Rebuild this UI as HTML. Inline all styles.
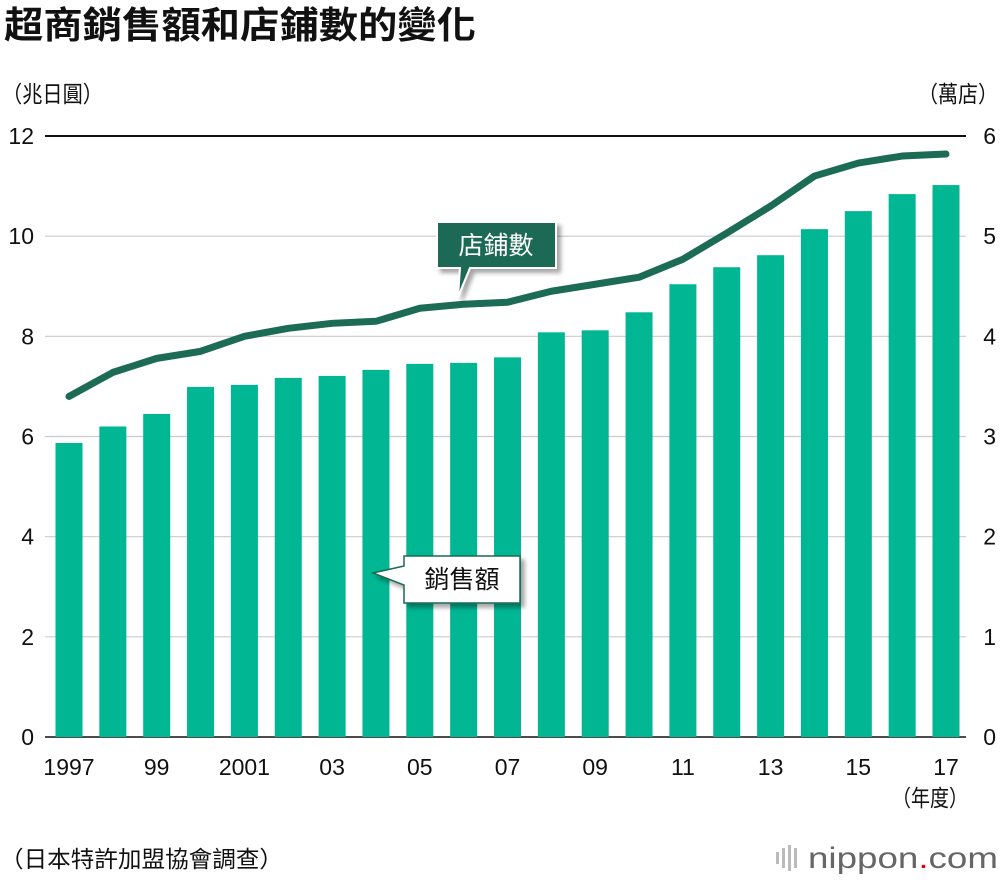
<!DOCTYPE html>
<html><head><meta charset="utf-8"><style>
body{margin:0;background:#fff;width:1000px;height:880px;overflow:hidden;font-family:"Liberation Sans","Noto Sans CJK TC",sans-serif}
</style></head><body>
<svg id="c" width="1000" height="880" style="position:absolute;left:0;top:0">
<defs><filter id="sh" x="-20%" y="-20%" width="150%" height="150%"><feDropShadow dx="4" dy="4" stdDeviation="2" flood-color="#000" flood-opacity="0.35"/></filter></defs>
<text x="4" y="38" font-size="37" font-weight="bold" fill="#111" textLength="472" lengthAdjust="spacingAndGlyphs" font-family="Liberation Sans,Noto Sans CJK TC,sans-serif">超商銷售額和店鋪數的變化</text>
<text x="2" y="102" font-size="23" fill="#111" textLength="101" lengthAdjust="spacingAndGlyphs" font-family="Liberation Sans,Noto Sans CJK TC,sans-serif">（兆日圓）</text>
<text x="918" y="102" font-size="23" fill="#111" textLength="80" lengthAdjust="spacingAndGlyphs" font-family="Liberation Sans,Noto Sans CJK TC,sans-serif">（萬店）</text>
<g id="grid"></g><g id="bars"></g><g id="line"></g><g id="ticks"></g>
<g>
<path d="M437,222 H556 V268 H470 L458,297 L460,268 H437 Z" fill="#1b6b55" stroke="#fff" stroke-width="2" filter="url(#sh)"/>
<text x="496" y="254" font-size="25" fill="#fff" text-anchor="middle" font-family="Liberation Sans,Noto Sans CJK TC,sans-serif">店鋪數</text></g>
<g>
<path d="M404,556 H520 V603 H404 V585 L373,573 L404,566 Z" fill="#fff" stroke="#1b6b55" stroke-width="1.5" filter="url(#sh)"/>
<text x="462" y="588" font-size="25" fill="#111" text-anchor="middle" font-family="Liberation Sans,Noto Sans CJK TC,sans-serif">銷售額</text></g>
<text x="892" y="806" font-size="23" fill="#111" textLength="76" lengthAdjust="spacingAndGlyphs" font-family="Liberation Sans,Noto Sans CJK TC,sans-serif">（年度）</text>
<text x="0" y="867" font-size="23" fill="#111" textLength="283" lengthAdjust="spacingAndGlyphs" font-family="Liberation Sans,Noto Sans CJK TC,sans-serif">（日本特許加盟協會調查）</text>
<g>
<g fill="#bbb"><rect x="776" y="852" width="3" height="12"/><rect x="782" y="848" width="3" height="20"/><rect x="788" y="845" width="3" height="26"/><rect x="794" y="848" width="3" height="20"/></g>
<text x="808" y="868" font-size="30" fill="#666" textLength="190" lengthAdjust="spacingAndGlyphs">nippon<tspan fill="#e60012">.</tspan>com</text></g>
</svg>
<script>
const years=["1997","98","99","2000","2001","02","03","04","05","06","07","08","09","10","11","12","13","14","15","16","17"];
const xLabels=["1997","","99","","2001","","03","","05","","07","","09","","11","","13","","15","","17"];
const sales=[5.87,6.2,6.45,6.99,7.03,7.17,7.21,7.33,7.45,7.47,7.58,8.08,8.12,8.48,9.04,9.38,9.62,10.14,10.5,10.84,11.02];
const stores=[3.40,3.64,3.78,3.85,4.0,4.08,4.13,4.15,4.28,4.32,4.34,4.45,4.52,4.59,4.77,5.03,5.30,5.60,5.73,5.80,5.82];
const leftTicks=[0,2,4,6,8,10,12];
const rightTicks=[0,1,2,3,4,5,6];
const NS="http://www.w3.org/2000/svg";
const y0=737,yTop=136,x0=69,step=43.85;
const yL=v=>y0-(y0-yTop)*v/12;
const yR=v=>y0-(y0-yTop)*v/6;
const xC=i=>x0+i*step;
function mk(t,a,p){const e=document.createElementNS(NS,t);for(const k in a)e.setAttribute(k,a[k]);p.appendChild(e);return e;}
const grid=document.getElementById('grid'),ticks=document.getElementById('ticks');
leftTicks.forEach((v,i)=>{
 const l=mk('line',{x1:45,x2:966,y1:yL(v),y2:yL(v),stroke:v===0||v===12?'#111':'#ccc','stroke-width':v===12?2:(v===0?1.5:1.2)},grid);
 
 
 const t=mk('text',{x:34,y:yL(v)+8,'font-size':23,'text-anchor':'end',fill:'#111'},ticks);t.textContent=v;
 
 
});
rightTicks.forEach(v=>{
 const t=mk('text',{x:996,y:yR(v)+8,'font-size':23,'text-anchor':'end',fill:'#111'},ticks);t.textContent=v;
 
 
});
const bars=document.getElementById('bars');
sales.forEach((v,i)=>{
 const r=mk('rect',{x:xC(i)-13.5,y:yL(v),width:27,height:y0-yL(v),fill:'#00b693'},bars);
 
 
 if(xLabels[i]){const t=mk('text',{x:xC(i),y:775,'font-size':23,'text-anchor':'middle',fill:'#111'},ticks);t.textContent=xLabels[i];
 
 }
});
const pl=mk('polyline',{points:stores.map((v,i)=>xC(i)+','+yR(v)).join(' '),fill:'none',stroke:'#1b6b55','stroke-width':7,'stroke-linejoin':'round','stroke-linecap':'round'},document.getElementById('line'));


</script>
</body></html>
